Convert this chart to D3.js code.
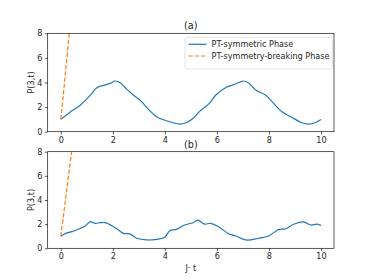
<!DOCTYPE html>
<html>
<head>
<meta charset="utf-8">
<script src="https://cdn.jsdelivr.net/npm/d3@7"></script>
<style>
  body { margin: 0; background: #fff; }
  text { font-family: "DejaVu Sans", sans-serif; fill: #262626; }
</style>
</head>
<body>
<div id="chart"></div>
<script>
// panel (a): PT-symmetric phase, P(3,t) vs J·t
const timeA = [0, 0.38, 0.76, 1.14, 1.4, 1.65, 1.9, 2.09, 2.28, 2.54, 2.79, 3.05, 3.3, 3.68, 4.06, 4.57, 4.82, 5.08, 5.33, 5.71, 5.96, 6.35, 6.6, 6.85, 7.04, 7.23, 7.49, 7.87, 8.12, 8.5, 8.88, 9.26, 9.52, 9.77, 10];
const symA = [1.0, 1.63, 2.17, 2.98, 3.6, 3.77, 3.93, 4.12, 3.98, 3.44, 2.98, 2.57, 1.98, 1.22, 0.89, 0.62, 0.73, 1.08, 1.63, 2.3, 2.98, 3.6, 3.79, 4.0, 4.12, 3.93, 3.39, 2.98, 2.44, 1.63, 1.17, 0.73, 0.62, 0.73, 1.0];
// panel (b)
const timeB = [0, 0.19, 0.44, 0.76, 0.95, 1.14, 1.33, 1.52, 1.71, 2.03, 2.22, 2.41, 2.66, 2.92, 3.3, 3.68, 4.0, 4.19, 4.44, 4.76, 5.08, 5.27, 5.52, 5.77, 6.09, 6.47, 6.73, 7.1, 7.61, 7.99, 8.38, 8.63, 8.95, 9.34, 9.59, 9.84, 10];
const symB = [1.0, 1.24, 1.38, 1.66, 1.85, 2.21, 2.07, 2.12, 2.12, 1.79, 1.52, 1.24, 1.19, 0.83, 0.69, 0.74, 0.91, 1.46, 1.57, 1.93, 2.12, 2.34, 2.0, 2.07, 1.74, 1.19, 1.02, 0.69, 0.83, 1.02, 1.57, 1.6, 1.99, 2.19, 1.93, 2.0, 1.9];
// PT-symmetry-breaking phase (blows up quickly)
const timeBreakA = [0, 0.1, 0.2, 0.33, 0.4];
const breakA = [1.0, 3.0, 5.2, 8.0, 9.6];
const timeBreakB = [0, 0.1, 0.2, 0.3, 0.42, 0.5];
const breakB = [1.0, 2.6, 4.3, 6.0, 8.0, 9.4];

const xTicks = [0, 2, 4, 6, 8, 10];
const yTicks = [0, 2, 4, 6, 8];
const seriesNames = ["PT-symmetric Phase", "PT-symmetry-breaking Phase"];
const colours = ["#1f77b4", "#ff7f0e"];

const W = 374, H = 280;
const left = 47.7, right = 334;
const panels = [
  { title: "(a)", top: 33.3, bottom: 131.7, t: timeA, v: symA, bt: timeBreakA, bv: breakA, legend: true },
  { title: "(b)", top: 151.7, bottom: 248.3, t: timeB, v: symB, bt: timeBreakB, bv: breakB, legend: false }
];

const svg = d3.select('#chart').append('svg')
  .attr('width', W).attr('height', H);

const x = d3.scaleLinear().domain([-0.5, 10.5]).range([left, right]);

panels.forEach((p, i) => {
  const y = d3.scaleLinear().domain([0, 8]).range([p.bottom, p.top]);
  const g = svg.append('g');

  const clipId = 'clip' + i;
  svg.append('clipPath').attr('id', clipId)
    .append('rect')
      .attr('x', left).attr('y', p.top)
      .attr('width', right - left).attr('height', p.bottom - p.top);

  const line = d3.line()
    .x(d => x(d[0])).y(d => y(d[1]))
    .curve(d3.curveCatmullRom.alpha(0.5));

  const plot = g.append('g').attr('clip-path', `url(#${clipId})`);
  plot.append('path')
    .datum(p.t.map((t, k) => [t, p.v[k]]))
    .attr('d', line)
    .attr('fill', 'none')
    .attr('stroke', colours[0])
    .attr('stroke-width', 1.2);
  plot.append('path')
    .datum(p.bt.map((t, k) => [t, p.bv[k]]))
    .attr('d', line)
    .attr('fill', 'none')
    .attr('stroke', colours[1])
    .attr('stroke-width', 1.2)
    .attr('stroke-dasharray', '4.4,1.9');

  // axes
  const xAxis = g.append('g')
    .attr('transform', `translate(0,${p.bottom})`)
    .call(d3.axisBottom(x).tickValues(xTicks).tickSize(2.8).tickPadding(2.5));
  const yAxis = g.append('g')
    .attr('transform', `translate(${left},0)`)
    .call(d3.axisLeft(y).tickValues(yTicks).tickSize(2.8).tickPadding(2.5));
  [xAxis, yAxis].forEach(a => {
    a.select('.domain').remove();
    a.selectAll('line').attr('stroke', '#000').attr('stroke-width', 0.65);
    a.selectAll('text').attr('font-size', 8.1).attr('fill', '#262626')
      .style('font-family', '"DejaVu Sans", sans-serif');
  });

  // frame
  g.append('rect')
    .attr('x', left).attr('y', p.top)
    .attr('width', right - left).attr('height', p.bottom - p.top)
    .attr('fill', 'none').attr('stroke', '#000').attr('stroke-width', 0.65);

  g.append('text')
    .attr('x', (left + right) / 2).attr('y', p.top - 4)
    .attr('text-anchor', 'middle').attr('font-size', 9.7)
    .text(p.title);

  g.append('text')
    .attr('transform', `translate(${33.5},${(p.top + p.bottom) / 2}) rotate(-90)`)
    .attr('text-anchor', 'middle').attr('font-size', 8.1)
    .text('P(3,t)');

  if (p.legend) {
    const lg = g.append('g').attr('transform', 'translate(185,37.3)');
    lg.append('rect')
      .attr('width', 147.3).attr('height', 31.7).attr('rx', 2)
      .attr('fill', '#fff').attr('fill-opacity', 0.8)
      .attr('stroke', '#d6d6d6').attr('stroke-width', 0.65);
    seriesNames.forEach((name, k) => {
      const yy = 7 + k * 11.7;
      lg.append('line')
        .attr('x1', 3.5).attr('x2', 21.5).attr('y1', yy).attr('y2', yy)
        .attr('stroke', colours[k]).attr('stroke-width', 1.2)
        .attr('stroke-dasharray', k === 1 ? '4.4,1.9' : null);
      lg.append('text')
        .attr('x', 26.5).attr('y', yy + 3)
        .attr('font-size', 8.1)
        .text(name);
    });
  }
});

svg.append('text')
  .attr('x', (left + right) / 2).attr('y', 270.5)
  .attr('text-anchor', 'middle').attr('font-size', 8.1)
  .text('J· t');
</script>
</body>
</html>
